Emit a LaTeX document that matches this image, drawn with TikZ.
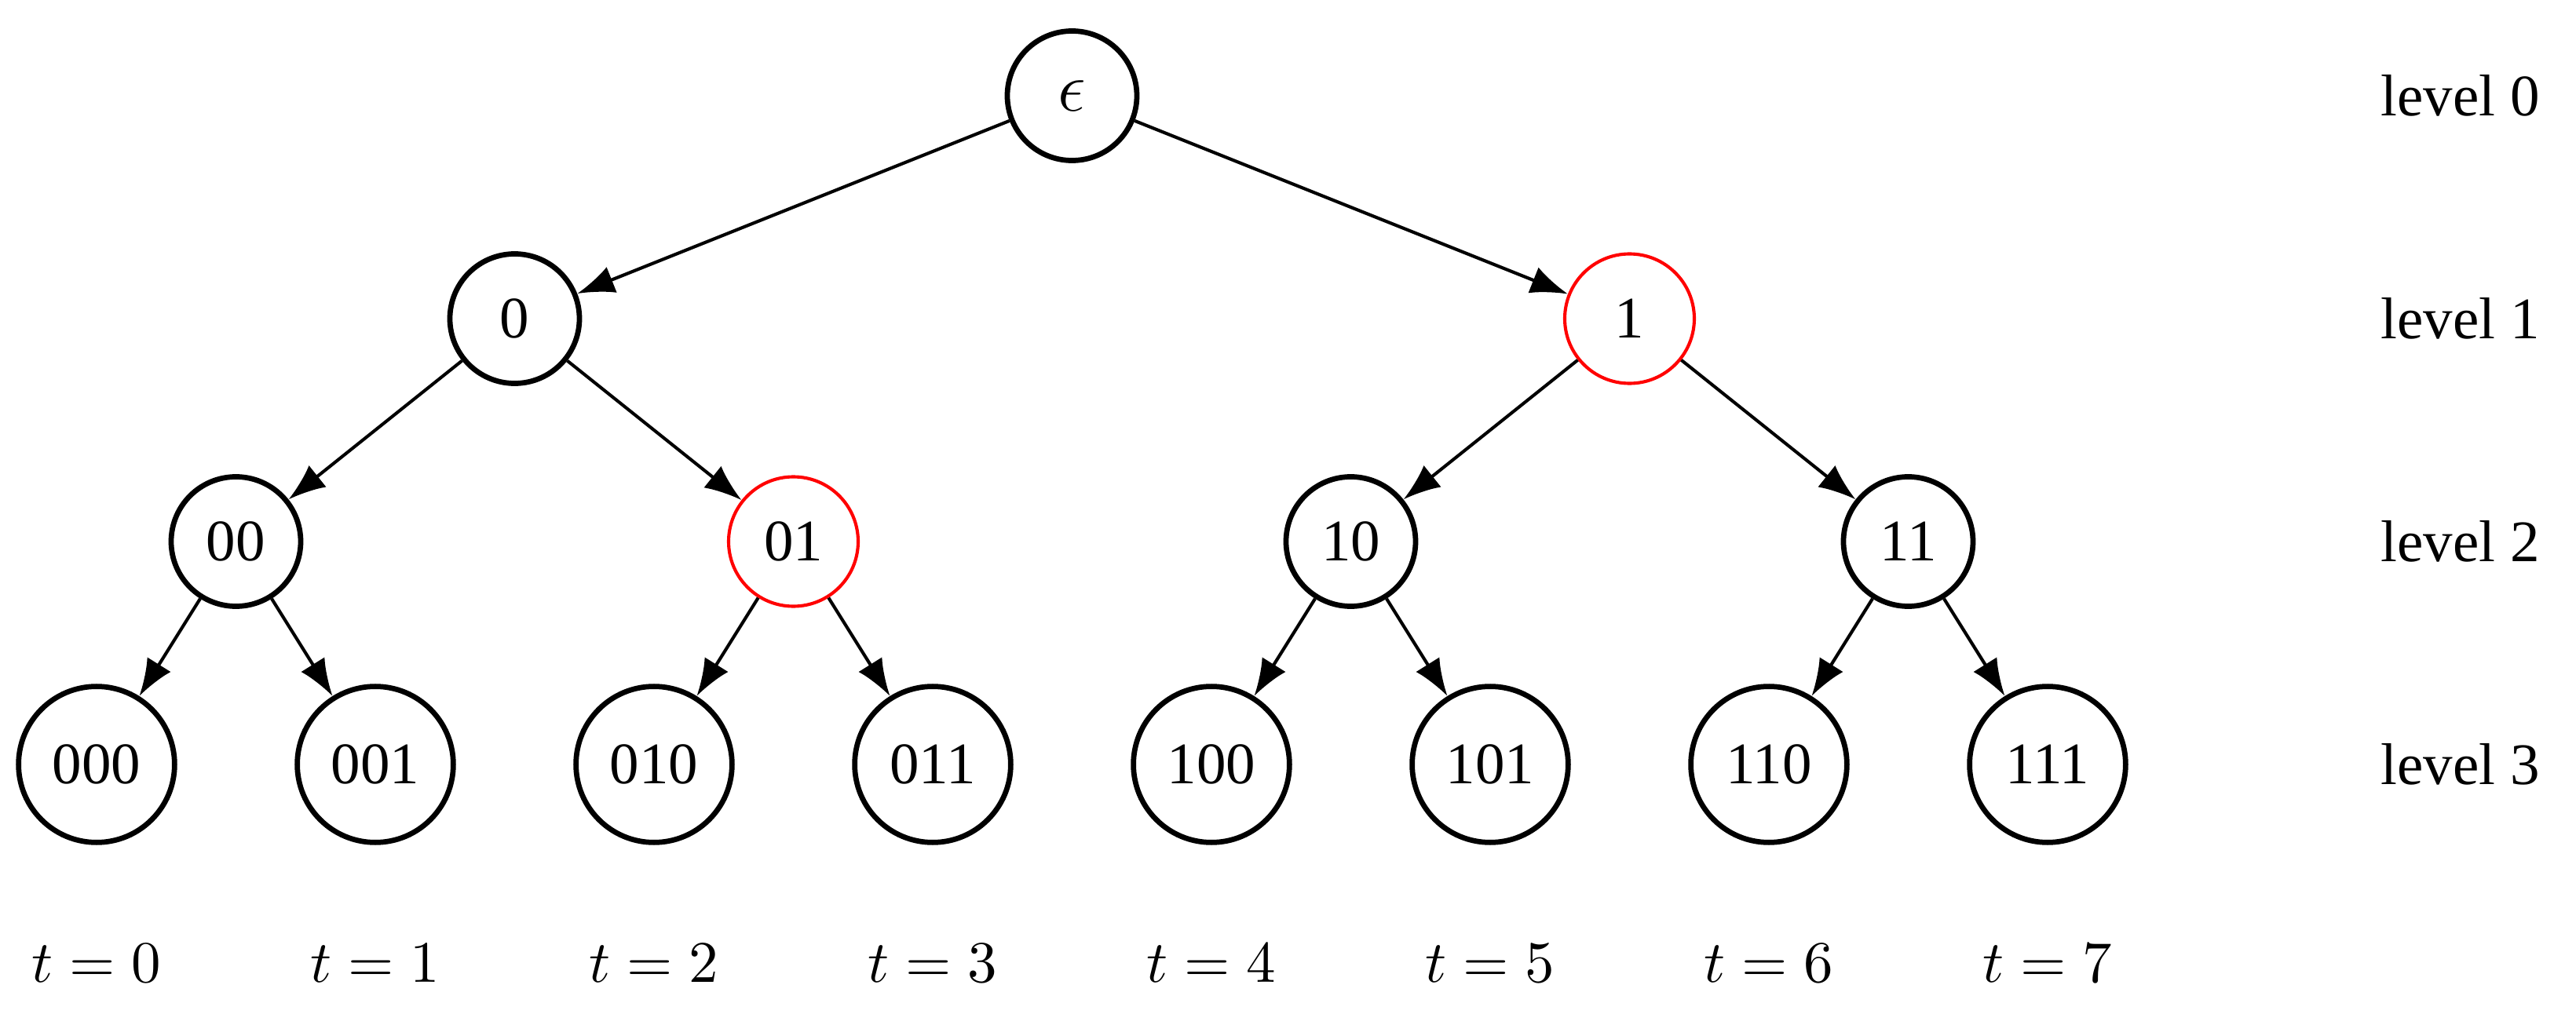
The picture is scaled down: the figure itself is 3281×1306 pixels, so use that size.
\documentclass[tikz,border=0pt]{standalone}
\usepackage{fontspec}
\setmainfont{Liberation Serif}
\usetikzlibrary{arrows.meta}
\begin{document}
\begin{tikzpicture}[x=0.13333pt,y=-0.13333pt,
  vtx/.style={circle,draw=black,line width=0.9pt,minimum size=22pt,inner sep=0pt,font=\fontsize{10}{12}\selectfont},
  leaf/.style={vtx,minimum size=26.5pt},
  hot/.style={draw=red,line width=0.55pt},
  edge/.style={-{Latex[length=6.3pt,width=4.7pt]},line width=0.55pt},
  lvl/.style={anchor=west,inner sep=0pt,font=\fontsize{10}{12}\selectfont},
  tlab/.style={inner sep=0pt,font=\fontsize{10}{12}\selectfont}]
\useasboundingbox (0,0) rectangle (3281,1306);
% nodes
\node[vtx,font=\fontsize{12}{14}\selectfont] (r) at (1365.5,122) {$\epsilon$};
\node[vtx] (n0) at (655.5,406) {0};
\node[vtx,hot] (n1) at (2075.5,406) {1};
\node[vtx] (n00) at (300.5,690) {00};
\node[vtx,hot] (n01) at (1010.5,690) {01};
\node[vtx] (n10) at (1720.5,690) {10};
\node[vtx] (n11) at (2430.5,690) {11};
\node[leaf] (n000) at (123,974) {000};
\node[leaf] (n001) at (478,974) {001};
\node[leaf] (n010) at (833,974) {010};
\node[leaf] (n011) at (1188,974) {011};
\node[leaf] (n100) at (1543,974) {100};
\node[leaf] (n101) at (1898,974) {101};
\node[leaf] (n110) at (2253,974) {110};
\node[leaf] (n111) at (2608,974) {111};
% edges
\draw[edge] (r) -- (n0);
\draw[edge] (r) -- (n1);
\draw[edge] (n0) -- (n00);
\draw[edge] (n0) -- (n01);
\draw[edge] (n1) -- (n10);
\draw[edge] (n1) -- (n11);
\draw[edge] (n00) -- (n000);
\draw[edge] (n00) -- (n001);
\draw[edge] (n01) -- (n010);
\draw[edge] (n01) -- (n011);
\draw[edge] (n10) -- (n100);
\draw[edge] (n10) -- (n101);
\draw[edge] (n11) -- (n110);
\draw[edge] (n11) -- (n111);
% level labels
\node[lvl] (l0) at (3031,122) {level 0};
\node[lvl] (l1) at (3031,406) {level 1};
\node[lvl] (l2) at (3031,690) {level 2};
\node[lvl] (l3) at (3031,974) {level 3};
% time labels
\node[tlab] (t0) at (123,1227) {$t=0$};
\node[tlab] (t1) at (478,1227) {$t=1$};
\node[tlab] (t2) at (833,1227) {$t=2$};
\node[tlab] (t3) at (1188,1227) {$t=3$};
\node[tlab] (t4) at (1543,1227) {$t=4$};
\node[tlab] (t5) at (1898,1227) {$t=5$};
\node[tlab] (t6) at (2253,1227) {$t=6$};
\node[tlab] (t7) at (2608,1227) {$t=7$};
\end{tikzpicture}
\end{document}
